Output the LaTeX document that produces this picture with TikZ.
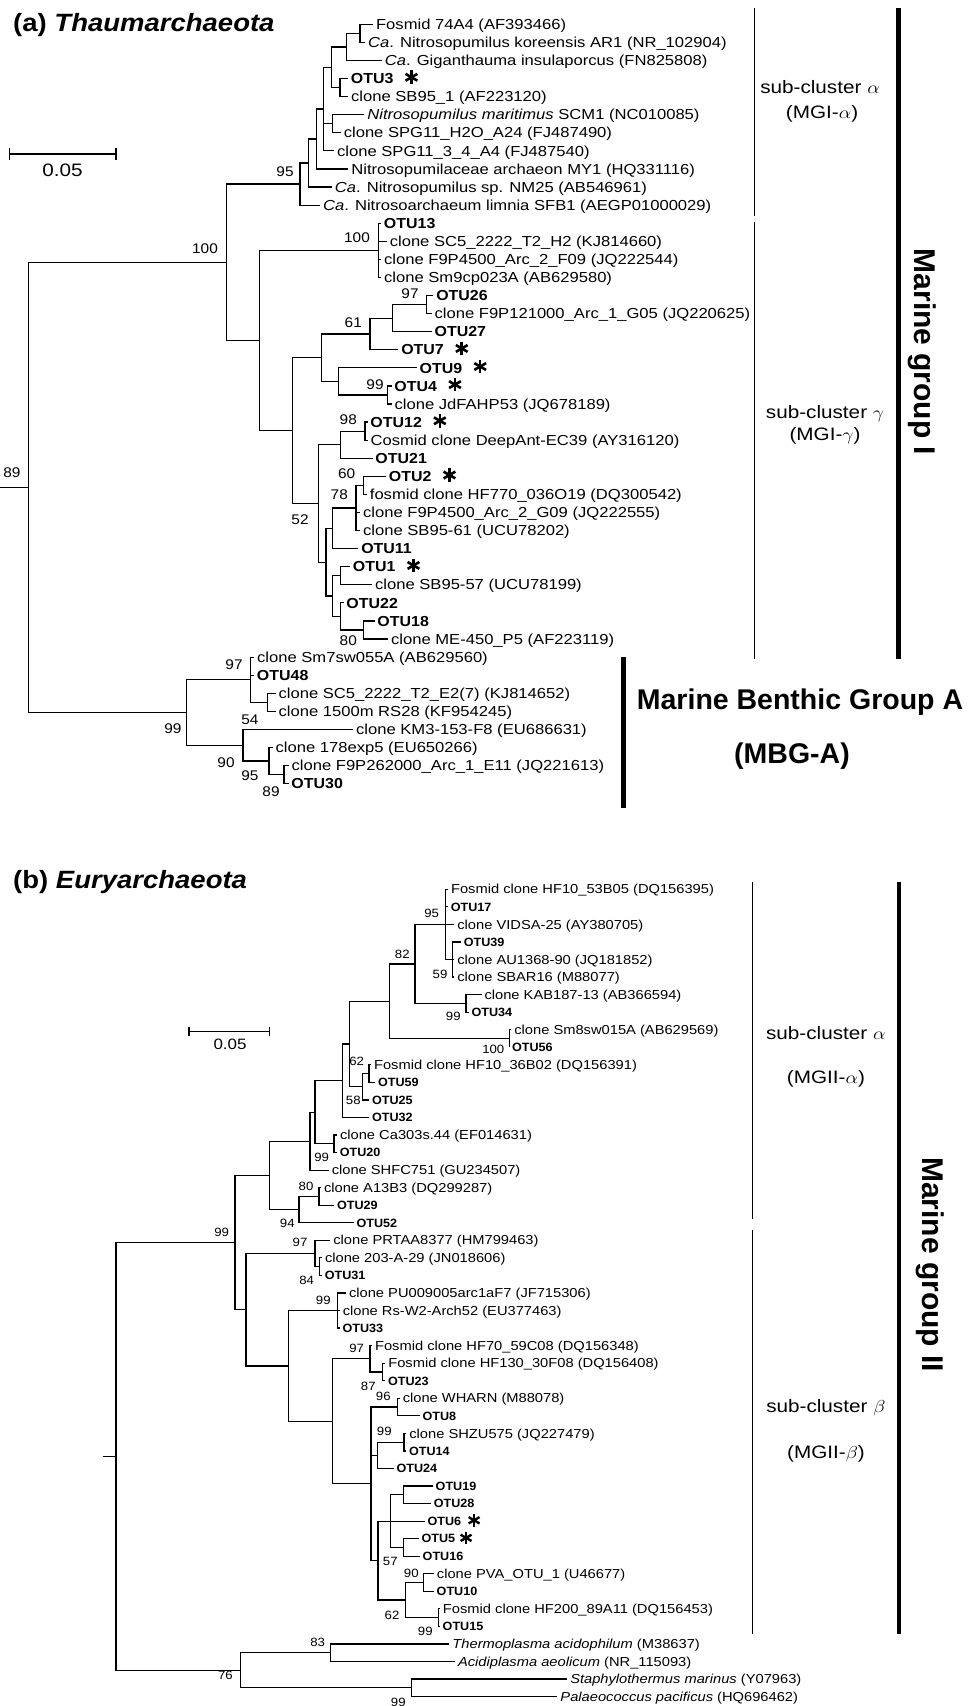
\documentclass[tikz,border=0pt]{standalone}
\usepackage{fontspec}
\setmainfont{Liberation Sans}
\usetikzlibrary{calc}
\newcommand\rowa[1]{(24.3+18.08*(#1))}
\newcommand\rowb[1]{(889.3+17.55*(#1))}
\newcommand\inna[3]{\coordinate (#1) at (#2,{\rowa{#3}});}
\newcommand\innb[3]{\coordinate (#1) at (#2,{\rowb{#3}});}
\newcommand\addtipa[6]{\coordinate (#2) at (#4,{\rowa{#5}}); \draw[br] (#3) |- (#2); \node[#1] (#2l) at (#2) {#6};}
\newcommand\addtipb[6]{\coordinate (#2) at (#4,{\rowb{#5}}); \draw[br] (#3) |- (#2); \node[#1] (#2l) at (#2) {#6};}
\newcommand\bsl[4]{\node[#1] (#2) at (#3) {#4};}
\tikzset{
 br/.style={line width=1.2pt},
 tipA/.style={anchor=base west, inner xsep=2.5pt, inner ysep=0pt, yshift=-5.2pt, xscale=1.145, font=\fontsize{14.5}{17}\selectfont},
 otuA/.style={anchor=base west, inner xsep=2.5pt, inner ysep=0pt, yshift=-5.2pt, xscale=1.1, font=\fontsize{14.5}{17}\selectfont\bfseries},
 tipB/.style={anchor=base west, inner xsep=2.5pt, inner ysep=0pt, yshift=-4.65pt, xscale=1.13, font=\fontsize{13}{15}\selectfont},
 otuB/.style={anchor=base west, inner xsep=2.5pt, inner ysep=0pt, yshift=-4.3pt, xscale=1.05, font=\fontsize{12}{14}\selectfont\bfseries},
 bsA/.style={inner sep=0pt, xscale=1.1, font=\fontsize{14}{16}\selectfont},
 bsB/.style={inner sep=0pt, xscale=1.1, font=\fontsize{12}{14}\selectfont},
 subl/.style={inner sep=0pt, xscale=1.15, font=\fontsize{18}{20}\selectfont},
 thinbar/.style={line width=1.2pt},
 thickbar/.style={line width=4.5pt},
 bigl/.style={inner sep=0pt, font=\fontsize{28.5}{32}\selectfont\bfseries},
 titl/.style={anchor=west, inner sep=0pt, xscale=1.1, font=\fontsize{25}{28}\selectfont\bfseries},
 astk/.pic={\foreach \a in {90,30,-30}{\draw[line width=2.6pt] (\a:6.8) -- (\a+180:6.8);}},
 astks/.pic={\foreach \a in {90,30,-30}{\draw[line width=2.4pt] (\a:6.3) -- (\a+180:6.3);}}
}
\begin{document}
\begin{tikzpicture}[x=1pt,y=-1pt]
\fill[white] (0,0) rectangle (978,1706);
\useasboundingbox (0,0) rectangle (978,1706);

% ================= (a) =================
\node[titl] (titleA) at (13,25) {(a) \textit{Thaumarchaeota}};
\coordinate (sa1) at (9.3,154); \coordinate (sa2) at (116,154);
\draw[br] (sa1) -- (sa2);
\draw[br] ([yshift=6pt]sa1) -- ([yshift=-6pt]sa1);
\draw[br] ([yshift=6pt]sa2) -- ([yshift=-6pt]sa2);
\node[inner sep=0pt, xscale=1.15, font=\fontsize{18}{20}\selectfont] (saL) at (62.6,170) {0.05};

\coordinate (stubA) at (0,{\rowa{25.6113}});
\inna{rootA}{28.3}{25.6113}
\inna{nMG1}{226.7}{13.1602}
\inna{n95}{300}{8.8359}
\inna{nD}{308.3}{7.6719}
\inna{nC}{316.7}{6.3438}
\inna{nB}{323.3}{4.6875}
\inna{nA}{331.7}{2.375}
\inna{nfkg}{346.7}{1.25}
\inna{nfk}{360}{0.5}
\inna{notu3}{340}{3.5}
\inna{nmar}{332.5}{5.5}
\inna{ngam}{259.3}{17.4844}
\inna{n100b}{378.3}{12.5}
\inna{nX}{292.3}{22.4688}
\inna{nq}{321.7}{18.4375}
\inna{n61}{370}{17.125}
\inna{notu27}{392.7}{16.25}
\inna{n97}{426.7}{15.5}
\inna{notu9}{338.3}{19.75}
\inna{n99}{387.3}{20.5}
\inna{nY}{318.3}{26.5}
\inna{notu21}{340.7}{23.25}
\inna{n98}{365}{22.5}
\inna{nZ}{326}{29.75}
\inna{nW}{332.7}{27.875}
\inna{n78}{356}{26.75}
\inna{n60}{363.3}{25.5}
\inna{nU}{332.7}{31.625}
\inna{notu1}{340.7}{30.5}
\inna{notu22}{340.7}{32.75}
\inna{n80}{363.3}{33.5}
\inna{n99m}{186.8}{38.0625}
\inna{n97m}{250.5}{36.25}
\inna{nsc}{267.5}{37.5}
\inna{n54}{243}{39.875}
\inna{n95m}{269}{40.75}
\inna{n89}{284}{41.5}

\draw[br] (stubA) -- (rootA);
\foreach \p/\c in {rootA/nMG1, rootA/n99m, nMG1/n95, nMG1/ngam, n95/nD, nD/nC, nC/nB, nB/nA, nB/nmar, nA/nfkg, nA/notu3, nfkg/nfk,
  ngam/n100b, ngam/nX, nX/nq, nX/nY, nq/n61, nq/notu9, n61/notu27, notu27/n97, notu9/n99,
  nY/notu21, nY/nZ, notu21/n98, nZ/nW, nZ/nU, nW/n78, n78/n60, nU/notu1, nU/notu22, notu22/n80,
  n99m/n97m, n99m/n54, n97m/nsc, n54/n95m, n95m/n89}
  {\draw[br] (\p) |- (\c);}

\addtipa{tipA}{ta0}{nfk}{373}{0}{Fosmid 74A4 (AF393466)}
\addtipa{tipA}{ta1}{nfk}{365}{1}{\textit{Ca}. Nitrosopumilus koreensis AR1 (NR\_102904)}
\addtipa{tipA}{ta2}{nfkg}{381.7}{2}{\textit{Ca}. Giganthauma insulaporcus (FN825808)}
\addtipa{otuA}{ta3}{notu3}{348}{3}{OTU3}
\addtipa{tipA}{ta4}{notu3}{348}{4}{clone SB95\_1 (AF223120)}
\addtipa{tipA}{ta5}{nmar}{364.3}{5}{\textit{Nitrosopumilus maritimus} SCM1 (NC010085)}
\addtipa{tipA}{ta6}{nmar}{340.7}{6}{clone SPG11\_H2O\_A24 (FJ487490)}
\addtipa{tipA}{ta7}{nB}{334}{7}{clone SPG11\_3\_4\_A4 (FJ487540)}
\addtipa{tipA}{ta8}{nC}{348.3}{8}{Nitrosopumilaceae archaeon MY1 (HQ331116)}
\addtipa{tipA}{ta9}{nD}{331.7}{9}{\textit{Ca}. Nitrosopumilus sp. NM25 (AB546961)}
\addtipa{tipA}{ta10}{n95}{320}{10}{\textit{Ca}. Nitrosoarchaeum limnia SFB1 (AEGP01000029)}
\addtipa{otuA}{ta11}{n100b}{381}{11}{OTU13}
\addtipa{tipA}{ta12}{n100b}{386.7}{12}{clone SC5\_2222\_T2\_H2 (KJ814660)}
\addtipa{tipA}{ta13}{n100b}{381}{13}{clone F9P4500\_Arc\_2\_F09 (JQ222544)}
\addtipa{tipA}{ta14}{n100b}{381}{14}{clone Sm9cp023A (AB629580)}
\addtipa{otuA}{ta15}{n97}{433.3}{15}{OTU26}
\addtipa{tipA}{ta16}{n97}{431.5}{16}{clone F9P121000\_Arc\_1\_G05 (JQ220625)}
\addtipa{otuA}{ta17}{notu27}{431.7}{17}{OTU27}
\addtipa{otuA}{ta18}{n61}{398.3}{18}{OTU7}
\addtipa{otuA}{ta19}{notu9}{416.7}{19}{OTU9}
\addtipa{otuA}{ta20}{n99}{391.5}{20}{OTU4}
\addtipa{tipA}{ta21}{n99}{391.5}{21}{clone JdFAHP53 (JQ678189)}
\addtipa{otuA}{ta22}{n98}{367.5}{22}{OTU12}
\addtipa{tipA}{ta23}{n98}{367.5}{23}{Cosmid clone DeepAnt-EC39 (AY316120)}
\addtipa{otuA}{ta24}{notu21}{372.5}{24}{OTU21}
\addtipa{otuA}{ta25}{n60}{386}{25}{OTU2}
\addtipa{tipA}{ta26}{n60}{366.8}{26}{fosmid clone HF770\_036O19 (DQ300542)}
\addtipa{tipA}{ta27}{n78}{360}{27}{clone F9P4500\_Arc\_2\_G09 (JQ222555)}
\addtipa{tipA}{ta28}{n78}{360}{28}{clone SB95-61 (UCU78202)}
\addtipa{otuA}{ta29}{nW}{358.3}{29}{OTU11}
\addtipa{otuA}{ta30}{notu1}{350}{30}{OTU1}
\addtipa{tipA}{ta31}{notu1}{372}{31}{clone SB95-57 (UCU78199)}
\addtipa{otuA}{ta32}{notu22}{343.5}{32}{OTU22}
\addtipa{otuA}{ta33}{n80}{374.5}{33}{OTU18}
\addtipa{tipA}{ta34}{n80}{388}{34}{clone ME-450\_P5 (AF223119)}
\addtipa{tipA}{ta35}{n97m}{254}{35}{clone Sm7sw055A (AB629560)}
\addtipa{otuA}{ta36}{n97m}{254}{36}{OTU48}
\addtipa{tipA}{ta37}{nsc}{275.5}{37}{clone SC5\_2222\_T2\_E2(7) (KJ814652)}
\addtipa{tipA}{ta38}{nsc}{275.5}{38}{clone 1500m RS28 (KF954245)}
\addtipa{tipA}{ta39}{n54}{353}{39}{clone KM3-153-F8 (EU686631)}
\addtipa{tipA}{ta40}{n95m}{272.5}{40}{clone 178exp5 (EU650266)}
\addtipa{tipA}{ta41}{n89}{288.5}{41}{clone F9P262000\_Arc\_1\_E11 (JQ221613)}
\addtipa{otuA}{ta42}{n89}{288.5}{42}{OTU30}

\foreach \t in {ta3l,ta18l,ta19l,ta20l,ta22l,ta25l,ta30l}
  {\pic at ([xshift=15pt,yshift=1.5pt]\t.east) {astk};}

\bsl{bsA}{ba1}{12,473}{89}
\bsl{bsA}{ba2}{205,249}{100}
\bsl{bsA}{ba3}{285,172}{95}
\bsl{bsA}{ba4}{357,238}{100}
\bsl{bsA}{ba5}{410,293.3}{97}
\bsl{bsA}{ba6}{353.3,322.7}{61}
\bsl{bsA}{ba7}{375,385}{99}
\bsl{bsA}{ba8}{348.3,419.3}{98}
\bsl{bsA}{ba9}{346.7,473.3}{60}
\bsl{bsA}{ba10}{339.3,495}{78}
\bsl{bsA}{ba11}{300,520}{52}
\bsl{bsA}{ba12}{348.3,640.7}{80}
\bsl{bsA}{ba13}{234,665}{97}
\bsl{bsA}{ba14}{250,719.3}{54}
\bsl{bsA}{ba15}{173,729}{99}
\bsl{bsA}{ba16}{226,762.7}{90}
\bsl{bsA}{ba17}{250,776}{95}
\bsl{bsA}{ba18}{271,791.7}{89}

\coordinate (aAT) at (754.3,8.1); \coordinate (aAB) at (754.3,215.7);
\coordinate (aGT) at (754.3,222.2); \coordinate (aGB) at (754.3,658.5);
\draw[thinbar] (aAT) -- (aAB);
\draw[thinbar] (aGT) -- (aGB);
\coordinate (mgIT) at (898.3,8.1); \coordinate (mgIB) at (898.3,658.5);
\draw[thickbar] (mgIT) -- (mgIB);
\coordinate (mbT) at (623.5,656.7); \coordinate (mbB) at (623.5,808.3);
\draw[thickbar] (mbT) -- (mbB);
\node[subl] (subA1) at (820,86.7) {sub-cluster $\alpha$};
\node[subl] (subA2) at (822,113.8) {(MGI-$\alpha$)};
\node[subl] (subG1) at (825,414) {sub-cluster $\gamma$};
\node[subl] (subG2) at (825,436) {(MGI-$\gamma$)};
\node[inner sep=0pt, rotate=-90, font=\fontsize{30}{32}\selectfont\bfseries] (mgI) at (922,352) {Marine group I};
\node[bigl] (mbga1) at (800,702) {Marine Benthic Group A};
\node[bigl] (mbga2) at (792,756) {(MBG-A)};

% ================= (b) =================
\node[titl] (titleB) at (13,881.6) {(b) \textit{Euryarchaeota}};
\coordinate (sb1) at (189,1031.6); \coordinate (sb2) at (269.3,1031.6);
\draw[br] (sb1) -- (sb2);
\draw[br] ([yshift=4.5pt]sb1) -- ([yshift=-4.5pt]sb1);
\draw[br] ([yshift=4.5pt]sb2) -- ([yshift=-4.5pt]sb2);
\node[inner sep=0pt, xscale=1.13, font=\fontsize{15}{17}\selectfont] (sbL) at (230,1044.6) {0.05};

\coordinate (stubB) at (102.7,{\rowb{32.3135}});
\innb{rootB}{116}{32.3135}
\innb{n99c}{235}{20.127}
\innb{nh}{269.3}{16.3008}
\innb{nd}{310}{14.3516}
\innb{nc}{315}{12.7031}
\innb{ng}{342.5}{10.9063}
\innb{ne}{349.3}{8.8125}
\innb{ntop}{389.3}{6.375}
\innb{n82}{415}{4.25}
\innb{n95b}{445.7}{2}
\innb{n59}{452.3}{4}
\innb{n99a}{466}{6.5}
\innb{n100}{509.3}{8.5}
\innb{n58}{362.3}{11.25}
\innb{n62}{369}{10.5}
\innb{n99b}{334}{14.5}
\innb{n94}{299}{18.25}
\innb{n80b}{319}{17.5}
\innb{nbeta}{246}{23.9531}
\innb{n97b}{315}{20.75}
\innb{n84}{319.3}{21.5}
\innb{nk}{288.3}{27.1563}
\innb{n99e}{337.3}{24}
\innb{nl}{332.7}{30.3125}
\innb{n97c}{370}{26.75}
\innb{n87}{382.7}{27.5}
\innb{nm}{371}{33.875}
\innb{n96}{397.7}{29.5}
\innb{no}{377.3}{32.25}
\innb{n99f}{404}{31.5}
\innb{np}{378}{38.25}
\innb{nx}{390.3}{36}
\innb{n1928}{403.2}{34.5}
\innb{n516}{403.2}{37.5}
\innb{n62b}{405.3}{40.5}
\innb{n90}{423.6}{39.5}
\innb{n99g}{438.3}{41.5}
\innb{n76}{240.5}{44.5}
\innb{n83}{330.6}{43.5}
\innb{n99d}{411.3}{45.5}

\draw[br] (stubB) -- (rootB);
\foreach \p/\c in {rootB/n99c, rootB/n76, n99c/nh, n99c/nbeta, nh/nd, nh/n94, nd/nc, nc/ng, nc/n99b, ng/ne, ne/ntop, ne/n58,
  ntop/n82, ntop/n100, n82/n95b, n82/n99a, n95b/n59, n58/n62, n94/n80b,
  nbeta/n97b, nbeta/nk, n97b/n84, nk/n99e, nk/nl, nl/n97c, nl/nm, n97c/n87, nm/n96, nm/no, nm/np, no/n99f,
  np/nx, np/n62b, nx/n1928, nx/n516, n62b/n90, n62b/n99g, n76/n83, n76/n99d}
  {\draw[br] (\p) |- (\c);}

\addtipb{tipB}{tb0}{n95b}{448}{0}{Fosmid clone HF10\_53B05 (DQ156395)}
\addtipb{otuB}{tb1}{n95b}{448}{1}{OTU17}
\addtipb{tipB}{tb2}{n95b}{454.3}{2}{clone VIDSA-25 (AY380705)}
\addtipb{otuB}{tb3}{n59}{461}{3}{OTU39}
\addtipb{tipB}{tb4}{n59}{454.3}{4}{clone AU1368-90 (JQ181852)}
\addtipb{tipB}{tb5}{n59}{454.3}{5}{clone SBAR16 (M88077)}
\addtipb{tipB}{tb6}{n99a}{481.5}{6}{clone KAB187-13 (AB366594)}
\addtipb{otuB}{tb7}{n99a}{468.7}{7}{OTU34}
\addtipb{tipB}{tb8}{n100}{511.3}{8}{clone Sm8sw015A (AB629569)}
\addtipb{otuB}{tb9}{n100}{509.3}{9}{OTU56}
\addtipb{tipB}{tb10}{n62}{371}{10}{Fosmid clone HF10\_36B02 (DQ156391)}
\addtipb{otuB}{tb11}{n62}{375.3}{11}{OTU59}
\addtipb{otuB}{tb12}{n58}{369.3}{12}{OTU25}
\addtipb{otuB}{tb13}{ng}{369.3}{13}{OTU32}
\addtipb{tipB}{tb14}{n99b}{337}{14}{clone Ca303s.44 (EF014631)}
\addtipb{otuB}{tb15}{n99b}{337}{15}{OTU20}
\addtipb{tipB}{tb16}{nd}{328.7}{16}{clone SHFC751 (GU234507)}
\addtipb{tipB}{tb17}{n80b}{321}{17}{clone A13B3 (DQ299287)}
\addtipb{otuB}{tb18}{n80b}{334.3}{18}{OTU29}
\addtipb{otuB}{tb19}{n94}{353.7}{19}{OTU52}
\addtipb{tipB}{tb20}{n97b}{330.3}{20}{clone PRTAA8377 (HM799463)}
\addtipb{tipB}{tb21}{n84}{322}{21}{clone 203-A-29 (JN018606)}
\addtipb{otuB}{tb22}{n84}{322}{22}{OTU31}
\addtipb{tipB}{tb23}{n99e}{346}{23}{clone PU009005arc1aF7 (JF715306)}
\addtipb{tipB}{tb24}{n99e}{339.7}{24}{clone Rs-W2-Arch52 (EU377463)}
\addtipb{otuB}{tb25}{n99e}{339.7}{25}{OTU33}
\addtipb{tipB}{tb26}{n97c}{372}{26}{Fosmid clone HF70\_59C08 (DQ156348)}
\addtipb{tipB}{tb27}{n87}{385.3}{27}{Fosmid clone HF130\_30F08 (DQ156408)}
\addtipb{otuB}{tb28}{n87}{385.3}{28}{OTU23}
\addtipb{tipB}{tb29}{n96}{399.7}{29}{clone WHARN (M88078)}
\addtipb{otuB}{tb30}{n96}{419.7}{30}{OTU8}
\addtipb{tipB}{tb31}{n99f}{406.3}{31}{clone SHZU575 (JQ227479)}
\addtipb{otuB}{tb32}{n99f}{406.3}{32}{OTU14}
\addtipb{otuB}{tb33}{no}{393.7}{33}{OTU24}
\addtipb{otuB}{tb34}{n1928}{432.9}{34}{OTU19}
\addtipb{otuB}{tb35}{n1928}{431}{35}{OTU28}
\addtipb{otuB}{tb36}{nx}{424.8}{36}{OTU6}
\addtipb{otuB}{tb37}{n516}{418.8}{37}{OTU5}
\addtipb{otuB}{tb38}{n516}{419.9}{38}{OTU16}
\addtipb{tipB}{tb39}{n90}{433.9}{39}{clone PVA\_OTU\_1 (U46677)}
\addtipb{otuB}{tb40}{n90}{433.9}{40}{OTU10}
\addtipb{tipB}{tb41}{n99g}{439.9}{41}{Fosmid clone HF200\_89A11 (DQ156453)}
\addtipb{otuB}{tb42}{n99g}{439.9}{42}{OTU15}
\addtipb{tipB}{tb43}{n83}{449.4}{43}{\textit{Thermoplasma acidophilum} (M38637)}
\addtipb{tipB}{tb44}{n83}{455}{44}{\textit{Acidiplasma aeolicum} (NR\_115093)}
\addtipb{tipB}{tb45}{n99d}{567.2}{45}{\textit{Staphylothermus marinus} (Y07963)}
\addtipb{tipB}{tb46}{n99d}{557.4}{46}{\textit{Palaeococcus pacificus} (HQ696462)}

\pic at ([xshift=10pt,yshift=1pt]tb36l.east) {astks};
\pic at ([xshift=8pt,yshift=1pt]tb37l.east) {astks};

\bsl{bsB}{bb1}{431.7,913.3}{95}
\bsl{bsB}{bb2}{402.3,954}{82}
\bsl{bsB}{bb3}{440,974.3}{59}
\bsl{bsB}{bb4}{453.3,1016}{99}
\bsl{bsB}{bb5}{493.3,1049.3}{100}
\bsl{bsB}{bb6}{356.7,1061.7}{62}
\bsl{bsB}{bb7}{353.3,1100.7}{58}
\bsl{bsB}{bb8}{321.7,1157.3}{99}
\bsl{bsB}{bb9}{306,1186.7}{80}
\bsl{bsB}{bb10}{287.3,1223.3}{94}
\bsl{bsB}{bb11}{221.7,1232.3}{99}
\bsl{bsB}{bb12}{300,1242.3}{97}
\bsl{bsB}{bb13}{306.7,1280}{84}
\bsl{bsB}{bb14}{323.3,1300.7}{99}
\bsl{bsB}{bb15}{356.7,1348.3}{97}
\bsl{bsB}{bb16}{368.3,1386}{87}
\bsl{bsB}{bb17}{383.3,1396.7}{96}
\bsl{bsB}{bb18}{384.3,1431.7}{99}
\bsl{bsB}{bb19}{390.3,1561.7}{57}
\bsl{bsB}{bb20}{411.3,1573.3}{90}
\bsl{bsB}{bb21}{392,1615}{62}
\bsl{bsB}{bb22}{425.3,1631.7}{99}
\bsl{bsB}{bb23}{317.7,1642.7}{83}
\bsl{bsB}{bb24}{225.4,1675.7}{76}
\bsl{bsB}{bb25}{398.3,1702.7}{99}

\coordinate (bAT) at (752.7,881.6); \coordinate (bAB) at (752.7,1218.9);
\coordinate (bBT) at (752.7,1229.7); \coordinate (bBB) at (752.7,1634.4);
\draw[thinbar] (bAT) -- (bAB);
\draw[thinbar] (bBT) -- (bBB);
\coordinate (mgIIT) at (899,881.6); \coordinate (mgIIB) at (899,1634.4);
\draw[thickbar] (mgIIT) -- (mgIIB);
\node[subl] (subB1) at (825.8,1032.7) {sub-cluster $\alpha$};
\node[subl] (subB2) at (826,1078.6) {(MGII-$\alpha$)};
\node[subl] (subB3) at (825.8,1407.7) {sub-cluster $\beta$};
\node[subl] (subB4) at (826,1453.6) {(MGII-$\beta$)};
\node[inner sep=0pt, rotate=-90, font=\fontsize{30}{32}\selectfont\bfseries] (mgII) at (930,1264.7) {Marine group II};
\end{tikzpicture}
\end{document}
